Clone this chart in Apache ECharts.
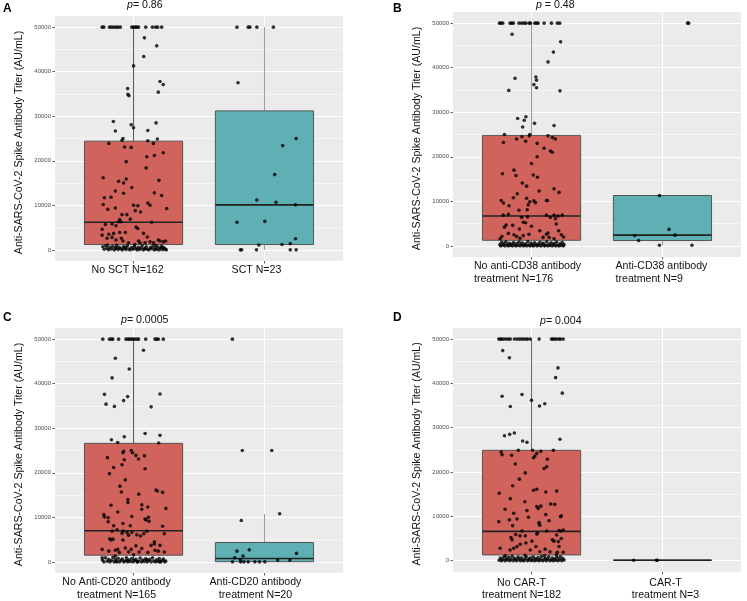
<!DOCTYPE html>
<html>
<head>
<meta charset="utf-8">
<script src="https://cdn.jsdelivr.net/npm/echarts@6/dist/echarts.min.js"></script>
</head>
<body style="margin:0">
<div id="main" style="width:747px;height:601px"></div>
<script>
var yTicks = [0, 10000, 20000, 30000, 40000, 50000];
var yMinor = [5000, 15000, 25000, 35000, 45000];
var yTitle = 'Anti-SARS-CoV-2 Spike Antibody Titer (AU/mL)';
var letters = ['A', 'B', 'C', 'D'];
var pTexts = ['= 0.86', ' = 0.48', '= 0.0005', '= 0.004'];

var aLabels = [['No SCT N=162'], ['SCT N=23']];
var bLabels = [['No anti-CD38 antibody', 'treatment N=176'], ['Anti-CD38 antibody', 'treatment N=9']];
var cLabels = [['No Anti-CD20 antibody', 'treatment N=165'], ['Anti-CD20 antibody', 'treatment N=20']];
var dLabels = [['No CAR-T', 'treatment N=182'], ['CAR-T', 'treatment N=3']];

// [min, Q1, median, Q3, max]
var aBox = [[0, 1200, 6200, 24400, 50000], [0, 1200, 10100, 31200, 50000]];
var bBox = [[0, 1250, 6700, 24800, 50000], [150, 1200, 2400, 11300, 11300]];
var cBox = [[0, 1500, 7000, 26600, 50000], [0, 30, 750, 4350, 10750]];
var dBox = [[0, 1300, 6600, 24900, 50000], [100, 100, 100, 100, 100]];

var boxColors = ['#d1635d', '#5eb0b4'];

// points: [jitter offset from group, titer]
var aNoSct = [
[-0.24,50000],[-0.227,50000],[-0.184,50000],[-0.169,50000],[-0.152,50000],[-0.134,50000],[-0.119,50000],[-0.101,50000],[-0.013,50000],[0,50000],[0.013,50000],[0.025,50000],[0.038,50000],[0.093,50000],[0.144,50000],[0.169,50000],[0.184,50000],[0.215,50000],
[0.083,47600],[0.177,45800],[0.078,43400],[0,41300],[0.202,37800],[0.227,37100],[-0.045,36200],[-0.043,34900],[-0.035,34600],[0.189,35400],
[-0.154,28800],[0.172,28500],[-0.018,28100],[0,27400],[-0.139,26700],[0.109,26800],[-0.081,25000],[-0.088,24600],[0.109,24500],[0.182,24900],
[-0.189,23900],[0.152,23900],[-0.068,23100],[-0.018,23000],[0.227,21800],[0.101,20900],[0.159,21200],[-0.056,19800],[0.096,18400],[-0.232,16200],
[0.194,15600],[-0.114,15400],[-0.056,15900],[-0.076,15000],[-0.013,14000],[-0.139,13200],[-0.222,11700],[-0.172,11800],[-0.076,12700],[0.159,12800],
[0.215,12200],[-0.232,10200],[-0.197,9100],[-0.139,9400],[0,10000],[0.033,9900],[0.109,10500],[0.126,10000],[0.253,9300],[0.013,8800],
[0.053,8500],[-0.088,7900],[-0.051,7900],[-0.025,6900],[-0.106,6800],[0.139,6200],[-0.114,6300],[-0.215,5700],[-0.164,5800],[-0.24,4600],
[-0.134,5400],[0.02,5100],[0.033,4800],[-0.096,6300],[-0.189,3500],[-0.24,3300],[-0.152,3700],[-0.106,3900],[-0.063,3900],[0.076,3700],
[0.106,2900],[-0.202,2600],[-0.164,2800],[-0.134,2200],[-0.093,2600],[-0.081,2000],[-0.038,1600],[0.038,2000],[0.05,1600],[0.088,1600],
[0.189,2200],[0.202,2000],[0.227,1800],[0.245,2000],[0.126,1800],[0.152,1600],
[-0.235,700],[-0.224,150],[-0.212,900],[-0.203,300],[-0.19,50],[-0.181,600],[-0.168,200],[-0.159,800],[-0.147,0],[-0.138,450],
[-0.129,1000],[-0.118,100],[-0.107,550],[-0.098,250],[-0.086,0],[-0.077,700],[-0.069,350],[-0.058,100],[-0.047,900],[-0.036,200],
[-0.027,0],[-0.016,500],[-0.004,150],[0.006,800],[0.017,300],[0.027,0],[0.036,600],[0.046,100],[0.057,400],[0.066,900],
[0.074,0],[0.085,300],[0.097,700],[0.108,150],[0.117,0],[0.128,500],[0.139,250],[0.148,850],[0.158,0],[0.166,400],
[0.176,100],[0.187,650],[0.196,0],[0.206,300],[0.214,800],[0.224,50],[0.233,450],[0.243,200],[-0.2,1100],[-0.13,400],
[-0.06,600],[0.01,1200],[0.09,200],[0.17,1000],[0.22,600],[0.25,0]
];
var aSct = [
[-0.21,50000],[-0.124,50000],[-0.111,50000],[-0.058,50000],[0.068,50000],[-0.202,37500],[0.242,25000],[0.139,23400],[0.078,16900],[-0.058,11200],
[0.088,10700],[0.237,10100],[-0.21,6200],[0.003,6400],[0.237,2500],[-0.043,1100],[0.134,1200],[0.197,1400],[-0.184,0],[-0.174,0],[-0.061,0],[0.197,0],[0.242,0]
];
var bNoCd38 = [
[-0.245,50000],[-0.235,50000],[-0.22,50000],[-0.164,50000],[-0.152,50000],[-0.139,50000],[-0.096,50000],[-0.076,50000],[-0.058,50000],[-0.043,50000],[-0.018,50000],[-0.008,50000],[0.025,50000],[0.038,50000],[0.05,50000],[0.096,50000],[0.152,50000],[0.197,50000],[0.215,50000],
[-0.149,47500],[0.222,45800],[0.167,43500],[0.126,41300],[-0.126,37600],[0.033,37900],[0.038,37200],[0.018,36200],[0.038,35500],[-0.174,34900],[0.217,34800],
[-0.106,28600],[-0.043,29000],[-0.056,28200],[-0.068,26700],[0.023,27500],[0.172,27000],
[-0.207,25000],[-0.013,25000],[-0.018,24700],[0.126,24700],[0.159,24300],[0.182,24000],[-0.215,23200],[-0.114,24000],[-0.073,24500],[-0.045,23500],[0.043,23000],
[0.096,21900],[0.144,21300],[0.159,21000],[0,18500],[0.043,20000],
[-0.222,16200],[-0.134,17000],[-0.119,15800],[0.013,15900],[0.045,15400],[-0.071,14100],[-0.038,13400],[0.058,12300],[0.172,12800],[0.21,12000],
[-0.109,11700],[-0.139,10800],[-0.038,10700],[-0.013,9900],[0.018,10100],[0.03,9700],[-0.232,10200],[-0.215,9600],[0.114,10200],[0.121,10200],
[-0.172,9000],[-0.025,9200],[-0.096,8000],[-0.033,8100],
[-0.217,6900],[-0.177,7100],[-0.076,6400],[-0.03,6500],[0.114,6900],[0.144,6400],[0.172,6900],[0.202,6700],[0.235,6900],
[-0.063,5300],[-0.045,5200],[0.182,6100],[0.189,4900],[-0.194,4700],[0.207,3400],[-0.207,4200],[-0.144,4600],[-0.093,3800],[0,4400],
[0.063,3400],[0.114,2600],[0.126,2900],[0.245,2000],[0.227,2500],[-0.227,2100],[-0.177,2800],[-0.134,2500],[-0.114,2100],[-0.088,1700],
[-0.063,2300],[-0.02,2600],[0.088,1900],[0.134,1900],[0.172,1600],[-0.24,1600],
[-0.242,300],[-0.236,0],[-0.228,800],[-0.219,150],[-0.211,500],[-0.203,0],[-0.196,900],[-0.187,250],[-0.178,0],[-0.171,600],
[-0.163,100],[-0.154,400],[-0.146,0],[-0.137,750],[-0.129,200],[-0.121,0],[-0.112,500],[-0.104,100],[-0.095,850],[-0.087,0],
[-0.079,300],[-0.071,650],[-0.062,0],[-0.054,150],[-0.046,450],[-0.037,0],[-0.028,950],[-0.02,200],[-0.011,0],[-0.003,550],
[0.006,100],[0.014,0],[0.023,700],[0.031,250],[0.04,0],[0.048,400],[0.057,100],[0.065,800],[0.073,0],[0.082,300],
[0.09,600],[0.099,0],[0.107,150],[0.116,900],[0.124,0],[0.133,350],[0.141,100],[0.15,700],[0.158,0],[0.167,250],
[0.175,500],[0.184,0],[0.192,850],[0.201,150],[0.209,0],[0.218,450],[0.226,100],[0.235,750],[0.243,0],[0.248,300]
];
var bCd38 = [
[0.192,50000],[0.2,50000],[-0.023,11300],[0.05,3700],[-0.212,2300],[0.096,2400],[-0.182,1200],[-0.023,150],[0.225,150]
];
var cNoCd20 = [
[-0.235,50000],[-0.184,50000],[-0.169,50000],[-0.159,50000],[-0.114,50000],[-0.058,50000],[-0.043,50000],[-0.033,50000],[-0.018,50000],[-0.005,50000],[0.008,50000],[0.025,50000],[0.038,50000],[0.093,50000],[0.164,50000],[0.177,50000],[0.189,50000],[0.227,50000],
[0.076,47500],[-0.139,45700],[-0.033,43300],[-0.164,41300],[-0.222,37600],[0.202,37700],[-0.045,37100],[-0.076,36200],[-0.21,35400],[-0.146,34900],[0.134,34800],
[0.088,28800],[0.202,28400],[-0.071,28100],[-0.169,27400],[-0.121,26800],[0.192,26700],
[-0.076,24800],[-0.081,24500],[-0.018,25000],[-0.008,24500],[0.018,23900],[0.038,23100],[0.083,23800],[-0.199,23400],[-0.071,22900],
[-0.152,21200],[-0.088,21800],[0.088,20900],[-0.184,19800],[-0.063,18400],[-0.104,17000],[-0.093,15700],[0.172,16100],[0.182,15900],[0.222,15600],[0.04,15200],
[-0.043,14000],[-0.043,13300],[-0.172,12700],[0.063,12800],[0.063,11800],[0.109,12300],[0.247,12000],[-0.121,11200],[-0.013,10200],[-0.227,10600],
[-0.222,10100],[-0.194,9900],[-0.194,9000],[0.088,9600],[0.114,10000],[0.119,9100],[0.096,9400],
[-0.081,8600],[-0.025,8100],[0.222,8000],[-0.152,8100],[-0.126,7200],[-0.164,6900],[-0.081,6900],[-0.088,6400],[-0.05,6600],[-0.013,6600],
[0.025,6100],[0.101,6900],[0.235,6300],[0.078,6300],
[-0.182,5200],[-0.157,5100],[-0.172,4900],[-0.081,4900],[-0.038,6000],[0.053,5800],[0.159,4500],[0.134,3700],[0.159,4000],[0.018,3600],[-0.063,3100],[0.202,3700],
[-0.24,2800],[-0.189,2400],[-0.139,2600],[-0.121,2800],[-0.038,2200],[-0.018,2800],[0.043,2200],[0.063,3000],[0.109,2100],[0.164,2600],
[0.189,2400],[0.235,2200],[-0.109,2100],[0,1600],[-0.24,900],[-0.139,1300],
[-0.238,400],[-0.226,0],[-0.215,900],[-0.2,150],[-0.19,600],[-0.18,0],[-0.169,300],[-0.157,1000],[-0.148,0],[-0.139,500],
[-0.127,100],[-0.118,800],[-0.106,0],[-0.097,350],[-0.086,650],[-0.075,0],[-0.066,200],[-0.055,900],[-0.044,0],[-0.035,450],
[-0.024,100],[-0.013,750],[-0.003,0],[0.008,300],[0.018,600],[0.028,0],[0.039,150],[0.05,850],[0.061,0],[0.07,400],
[0.081,100],[0.092,700],[0.103,0],[0.113,250],[0.124,550],[0.134,0],[0.145,900],[0.155,200],[0.166,0],[0.176,450],
[0.187,100],[0.197,750],[0.208,0],[0.218,300],[0.228,650],[0.238,0],[0.246,200],[-0.13,0],[-0.05,300],[0.03,0],[0.1,500],[0.2,0]
];
var cCd20 = [
[-0.245,50000],[-0.169,25000],[0.056,25000],[0.116,10800],[-0.177,9300],[-0.21,2400],[-0.116,2700],[0.245,1900],[-0.164,1300],[-0.227,900],
[-0.184,500],[0.101,400],[0.194,400],[-0.245,0],[-0.182,0],[-0.157,0],[-0.124,0],[-0.073,0],[-0.038,0],[0.003,0]
];
var dNoCart = [
[-0.25,50000],[-0.237,50000],[-0.227,50000],[-0.212,50000],[-0.194,50000],[-0.177,50000],[-0.162,50000],[-0.131,50000],[-0.111,50000],[-0.093,50000],[-0.076,50000],[-0.061,50000],
[-0.043,50000],[-0.03,50000],[-0.01,50000],[0.058,50000],[0.152,50000],[0.164,50000],[0.177,50000],[0.192,50000],[0.21,50000],[0.222,50000],[0.242,50000],
[-0.22,47400],[-0.169,45800],[0.202,43500],[0.184,41300],[0.235,37800],[-0.225,37100],[-0.073,37500],[0,36200],[-0.162,34800],[0.061,34900],[0.101,35400],
[-0.207,28200],[-0.167,28500],[-0.131,28800],[0.217,27400],[-0.068,27000],[-0.035,26700],
[-0.232,24500],[-0.225,23900],[-0.152,23800],[-0.101,24900],[0.008,24900],[0.071,24700],[0.167,24900],[0.015,23200],[0.025,23600],[0.04,24200],[0.121,22900],
[-0.124,21800],[0.096,20800],[0.116,21200],[-0.048,19800],[-0.093,18400],[-0.144,16900],[-0.247,15200],[-0.162,14000],[0.015,15900],[0.04,16100],[0.109,15500],[0.192,15700],
[-0.051,13300],[0.071,12300],[0.146,12800],[0.177,12700],[-0.202,11600],[-0.035,11300],[0.04,12200],[0.051,11800],[-0.136,10700],[0.109,10400],[0.227,10100],[0.222,9900],[-0.023,9800],
[-0.25,8800],[-0.111,9400],[-0.169,9200],[0.058,8600],[0.134,9000],[0.063,8000],[-0.144,7900],[0.058,8400],
[-0.073,6700],[-0.121,5900],[-0.088,5600],[-0.048,5600],[0.045,6200],[0.04,6000],[0.116,6700],[0.21,6800],[0.222,6700],[0.242,6900],[0.192,5800],
[-0.157,5200],[-0.149,4700],[0.227,5000],[0.159,4700],[0.003,4400],[-0.086,3700],[-0.043,4000],[0.172,4400],[0.205,4300],[0.21,3200],
[-0.24,2800],[-0.136,2800],[-0.111,3200],[0.033,3200],[0.104,2600],[-0.01,2400],[0.063,2000],[0.141,2000],[0.197,1900],[0.242,1900],[-0.164,2400],
[-0.247,100],[-0.238,600],[-0.229,0],[-0.22,300],[-0.211,900],[-0.202,0],[-0.193,450],[-0.184,150],[-0.175,750],[-0.166,0],
[-0.157,300],[-0.148,1000],[-0.139,0],[-0.13,550],[-0.121,200],[-0.112,0],[-0.103,800],[-0.094,350],[-0.085,0],[-0.076,650],
[-0.067,100],[-0.058,0],[-0.049,450],[-0.04,900],[-0.031,0],[-0.022,250],[-0.013,600],[-0.004,0],[0.005,150],[0.014,800],
[0.023,0],[0.032,400],[0.041,100],[0.05,700],[0.059,0],[0.068,300],[0.077,950],[0.086,0],[0.095,200],[0.104,550],
[0.113,0],[0.122,350],[0.131,850],[0.14,0],[0.149,150],[0.158,600],[0.167,0],[0.176,400],[0.185,100],[0.194,750],
[0.203,0],[0.212,300],[0.221,900],[0.23,0],[0.239,500],[0.248,150],[-0.2,1100],[-0.05,1200],[0.1,1100],[0.19,1300]
];
var dCart = [[-0.22,100],[-0.046,100],[-0.04,100]];

var panelGroups = [[aNoSct, aSct], [bNoCd38, bCd38], [cNoCd20, cCd20], [dNoCart, dCart]];
var panelBoxes = [aBox, bBox, cBox, dBox];
var panelLabels = [aLabels, bLabels, cLabels, dLabels];

// layout
var layout = [
  {left: 55, top: 16, h: 245, letter: [3, 3], p: [127, 0], shift: [-6, -8], lineAlign: 'center', margin: 3, whisk: ['#555', '#999']},
  {left: 453, top: 12, h: 245, letter: [393, 3], p: [536, 0], shift: [-4, -1], lineAlign: 'left', margin: 3, whisk: ['#999', '#999']},
  {left: 55, top: 328, h: 245, letter: [3, 312], p: [121, 315], shift: [-17, -9], lineAlign: 'center', margin: 3, whisk: ['#555', '#999']},
  {left: 453, top: 328, h: 244, letter: [393, 312], p: [540, 316], shift: [-10, 3], lineAlign: 'center', margin: 5, whisk: ['#666', '#666']}
];
var FONT = 'Liberation Sans, Arial, sans-serif';

var grids = [], xAxes = [], yAxes = [], series = [], titles = [];

layout.forEach(function (L, i) {
  grids.push({left: L.left, top: L.top, width: 288, height: L.h, show: true,
    backgroundColor: '#ebebeb', borderWidth: 0});

  var rich = {};
  L.shift.forEach(function (s, k) {
    rich['c' + k] = {
      fontSize: 10.6, fontFamily: FONT, color: '#111', lineHeight: 12.5,
      align: L.lineAlign,
      padding: s < 0 ? [0, -2 * s, 0, 0] : [0, 0, 0, 2 * s]
    };
  });
  var labels = panelLabels[i];
  xAxes.push({
    gridIndex: i, type: 'value', min: 0.4, max: 2.6,
    axisLine: {show: false, onZero: false},
    axisTick: {show: true, length: 2.5, customValues: [1, 2], lineStyle: {color: '#333', width: 0.8}},
    axisLabel: {
      customValues: [1, 2], margin: L.margin, rich: rich,
      formatter: function (v) {
        var k = Math.round(v) - 1;
        return labels[k].map(function (t) { return '{c' + k + '|' + t + '}'; }).join('\n');
      }
    },
    splitLine: {show: true, lineStyle: {color: '#fff', width: 1}}
  });
  yAxes.push({
    gridIndex: i, type: 'value', min: -2500, max: 52500,
    name: yTitle, nameLocation: 'middle', nameGap: 30,
    nameTextStyle: {fontSize: 10.6, color: '#111', fontFamily: FONT, padding: [0, 8, 0, 0]},
    axisLine: {show: false, onZero: false},
    axisTick: {show: true, length: 2.5, customValues: yTicks, lineStyle: {color: '#333', width: 0.8}},
    axisLabel: {customValues: yTicks, fontSize: 6, color: '#4d4d4d', margin: 4, fontFamily: FONT,
      formatter: function (v) { return String(v); }},
    splitLine: {show: true, lineStyle: {color: '#fff', width: 1}}
  });

  // boxes
  var boxes = panelBoxes[i];
  series.push({
    type: 'custom', xAxisIndex: i, yAxisIndex: i, z: 2, silent: true,
    data: boxes.map(function (b, k) { return [k + 1].concat(b).concat([k]); }),
    encode: {x: 0, y: [1, 2, 3, 4, 5]},
    renderItem: function (params, api) {
      var x = api.value(0), k = api.value(6);
      var lo = api.coord([x, api.value(1)]);
      var q1 = api.coord([x, api.value(2)]);
      var md = api.coord([x, api.value(3)]);
      var q3 = api.coord([x, api.value(4)]);
      var hi = api.coord([x, api.value(5)]);
      var w = api.size([0.75, 0])[0];
      var wc = L.whisk[k];
      return {type: 'group', children: [
        {type: 'line', shape: {x1: lo[0], y1: lo[1], x2: q1[0], y2: q1[1]}, style: {stroke: wc, lineWidth: 1}},
        {type: 'line', shape: {x1: q3[0], y1: q3[1], x2: hi[0], y2: hi[1]}, style: {stroke: wc, lineWidth: 1}},
        {type: 'rect', shape: {x: q1[0] - w / 2, y: q3[1], width: w, height: q1[1] - q3[1]},
          style: {fill: boxColors[k], stroke: '#555', lineWidth: 1}},
        {type: 'line', shape: {x1: md[0] - w / 2, y1: md[1], x2: md[0] + w / 2, y2: md[1]},
          style: {stroke: '#222', lineWidth: 1.6}}
      ]};
    },
    markLine: {
      silent: true, symbol: 'none', z: 1, label: {show: false},
      lineStyle: {color: '#fff', width: 0.5, type: 'solid'},
      data: yMinor.map(function (v) { return {yAxis: v}; })
    }
  });

  // points
  var pts = [];
  panelGroups[i].forEach(function (g, k) {
    g.forEach(function (p) { pts.push([k + 1 + p[0], p[1]]); });
  });
  series.push({
    type: 'scatter', xAxisIndex: i, yAxisIndex: i, z: 3, silent: true, clip: false,
    symbolSize: 3.6, itemStyle: {color: '#000'}, data: pts
  });

  titles.push({text: letters[i], left: L.letter[0], top: L.letter[1], padding: 0,
    textStyle: {fontSize: 12, fontWeight: 'bold', color: '#000', fontFamily: FONT}});
  titles.push({text: '{i|p}' + pTexts[i], left: L.p[0], top: L.p[1], padding: 0,
    textStyle: {fontSize: 10.6, fontWeight: 'normal', color: '#111', fontFamily: FONT,
      rich: {i: {fontStyle: 'italic', fontSize: 10.6, color: '#111', fontFamily: FONT}}}});
});

var chart = echarts.init(document.getElementById('main'), null, {renderer: 'canvas'});
chart.setOption({
  animation: false,
  backgroundColor: '#fff',
  title: titles,
  grid: grids,
  xAxis: xAxes,
  yAxis: yAxes,
  series: series
});
</script>
</body>
</html>
